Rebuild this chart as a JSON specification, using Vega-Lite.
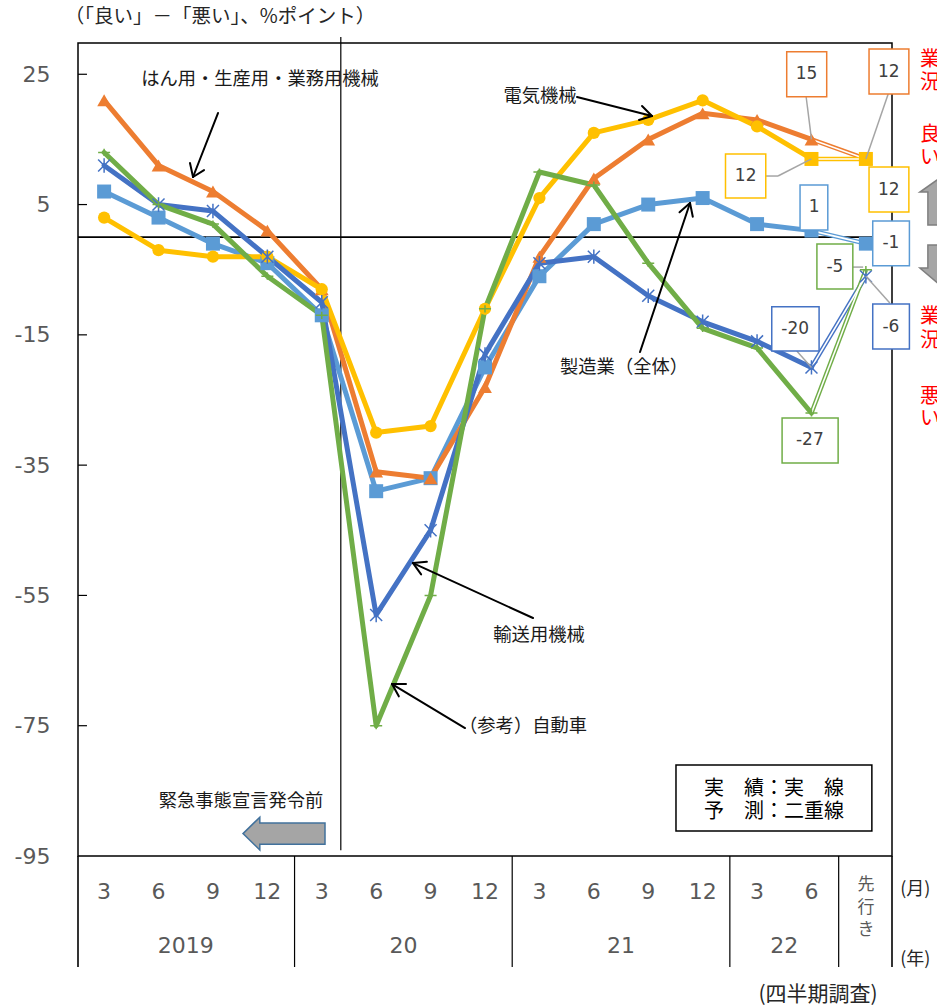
{
  "$schema": "https://vega.github.io/schema/vega-lite/v6.json",
  "width": 814,
  "height": 813,
  "autosize": {"type": "none"},
  "padding": {"left": 78, "top": 43, "right": 45, "bottom": 150},
  "background": "white",
  "config": {"view": {"stroke": "black", "strokeWidth": 1.5}, "font": "Noto Sans CJK JP"},
  "datasets": {
    "series": [
      {"s":"1lb","x":0,"y":7},{"s":"1lb","x":1,"y":3},{"s":"1lb","x":2,"y":-1},{"s":"1lb","x":3,"y":-4},{"s":"1lb","x":4,"y":-12},{"s":"1lb","x":5,"y":-39},{"s":"1lb","x":6,"y":-37},{"s":"1lb","x":7,"y":-20},{"s":"1lb","x":8,"y":-6},{"s":"1lb","x":9,"y":2},{"s":"1lb","x":10,"y":5},{"s":"1lb","x":11,"y":6},{"s":"1lb","x":12,"y":2},{"s":"1lb","x":13,"y":1},{"s":"1lb","x":14,"y":-1},
      {"s":"2or","x":0,"y":21},{"s":"2or","x":1,"y":11},{"s":"2or","x":2,"y":7},{"s":"2or","x":3,"y":1},{"s":"2or","x":4,"y":-8},{"s":"2or","x":5,"y":-36},{"s":"2or","x":6,"y":-37},{"s":"2or","x":7,"y":-23},{"s":"2or","x":8,"y":-3},{"s":"2or","x":9,"y":9},{"s":"2or","x":10,"y":15},{"s":"2or","x":11,"y":19},{"s":"2or","x":12,"y":18},{"s":"2or","x":13,"y":15},{"s":"2or","x":14,"y":12},
      {"s":"3ye","x":0,"y":3},{"s":"3ye","x":1,"y":-2},{"s":"3ye","x":2,"y":-3},{"s":"3ye","x":3,"y":-3},{"s":"3ye","x":4,"y":-8},{"s":"3ye","x":5,"y":-30},{"s":"3ye","x":6,"y":-29},{"s":"3ye","x":7,"y":-11},{"s":"3ye","x":8,"y":6},{"s":"3ye","x":9,"y":16},{"s":"3ye","x":10,"y":18},{"s":"3ye","x":11,"y":21},{"s":"3ye","x":12,"y":17},{"s":"3ye","x":13,"y":12},{"s":"3ye","x":14,"y":12},
      {"s":"4db","x":0,"y":11},{"s":"4db","x":1,"y":5},{"s":"4db","x":2,"y":4},{"s":"4db","x":3,"y":-3},{"s":"4db","x":4,"y":-10},{"s":"4db","x":5,"y":-58},{"s":"4db","x":6,"y":-45},{"s":"4db","x":7,"y":-18},{"s":"4db","x":8,"y":-4},{"s":"4db","x":9,"y":-3},{"s":"4db","x":10,"y":-9},{"s":"4db","x":11,"y":-13},{"s":"4db","x":12,"y":-16},{"s":"4db","x":13,"y":-20},{"s":"4db","x":14,"y":-6},
      {"s":"5gr","x":0,"y":13},{"s":"5gr","x":1,"y":5},{"s":"5gr","x":2,"y":2},{"s":"5gr","x":3,"y":-6},{"s":"5gr","x":4,"y":-12},{"s":"5gr","x":5,"y":-75},{"s":"5gr","x":6,"y":-55},{"s":"5gr","x":7,"y":-11},{"s":"5gr","x":8,"y":10},{"s":"5gr","x":9,"y":8},{"s":"5gr","x":10,"y":-4},{"s":"5gr","x":11,"y":-14},{"s":"5gr","x":12,"y":-17},{"s":"5gr","x":13,"y":-27},{"s":"5gr","x":14,"y":-5}
    ],
    "frameRules": [
      {"x":-0.48,"x2":14.48,"y":0,"y2":0},
      {"x":-0.48,"x2":-0.48,"y":-95,"y2":-112.04},
      {"x":14.48,"x2":14.48,"y":-95,"y2":-112.04}
    ],
    "thinRules": [
      {"x":4.35,"x2":4.35,"y":30.72,"y2":-94.1},
      {"x":3.5,"x2":3.5,"y":-95,"y2":-112.04},
      {"x":7.5,"x2":7.5,"y":-95,"y2":-112.04},
      {"x":11.5,"x2":11.5,"y":-95,"y2":-112.04},
      {"x":13.5,"x2":13.5,"y":-95,"y2":-112.04},
      {"x":-0.48,"x2":-0.315,"y":25,"y2":25},
      {"x":-0.48,"x2":-0.315,"y":5,"y2":5},
      {"x":-0.48,"x2":-0.315,"y":-15,"y2":-15},
      {"x":-0.48,"x2":-0.315,"y":-35,"y2":-35},
      {"x":-0.48,"x2":-0.315,"y":-55,"y2":-55},
      {"x":-0.48,"x2":-0.315,"y":-75,"y2":-75}
    ],
    "arrows": [
      {"x":2.093,"y":19.05,"x2":1.634,"y2":9.23},
      {"x":1.578,"y":11.38,"x2":1.634,"y2":9.23},
      {"x":1.836,"y":10.3,"x2":1.634,"y2":9.23},
      {"x":8.691,"y":21.51,"x2":10.069,"y2":18.59},
      {"x":9.886,"y":20.13,"x2":10.069,"y2":18.59},
      {"x":9.83,"y":17.98,"x2":10.069,"y2":18.59},
      {"x":9.849,"y":-17.64,"x2":10.768,"y2":5.24},
      {"x":10.575,"y":3.81,"x2":10.768,"y2":5.24},
      {"x":10.819,"y":3.13,"x2":10.768,"y2":5.24},
      {"x":7.882,"y":-58.47,"x2":5.677,"y2":-50.03},
      {"x":5.826,"y":-51.78,"x2":5.677,"y2":-50.03},
      {"x":5.932,"y":-49.83,"x2":5.677,"y2":-50.03},
      {"x":6.633,"y":-75.36,"x2":5.291,"y2":-68.6},
      {"x":5.416,"y":-70.49,"x2":5.291,"y2":-68.6},
      {"x":5.548,"y":-68.6,"x2":5.291,"y2":-68.6}
    ],
    "leaders": [
      {"x":12.9,"y":21.66,"x2":13.0,"y2":15},
      {"x":14.41,"y":21.97,"x2":14.0,"y2":12},
      {"x":12.16,"y":9.38,"x2":12.385,"y2":9.38},
      {"x":12.385,"y":9.38,"x2":13.0,"y2":12},
      {"x":13.76,"y":-4.6,"x2":13.95,"y2":-4.6},
      {"x":14.44,"y":-10.1,"x2":14.0,"y2":-6},
      {"x":12.73,"y":-17.48,"x2":13.0,"y2":-20}
    ],
    "boxes": [
      {"t":"15","s":"2or","x":12.545,"x2":13.28,"y":28.46,"y2":21.56,"cx":12.91,"cy":25.0},
      {"t":"12","s":"2or","x":14.058,"x2":14.79,"y":28.88,"y2":21.97,"cx":14.42,"cy":25.4},
      {"t":"12","s":"3ye","x":11.42,"x2":12.16,"y":12.76,"y2":6.0,"cx":11.79,"cy":9.38},
      {"t":"12","s":"3ye","x":14.058,"x2":14.79,"y":10.76,"y2":3.86,"cx":14.42,"cy":7.31},
      {"t":"1","s":"1lb","x":12.79,"x2":13.3,"y":8.0,"y2":1.09,"cx":13.05,"cy":4.55},
      {"t":"-1","s":"1lb","x":14.126,"x2":14.8,"y":2.47,"y2":-4.39,"cx":14.46,"cy":-0.96},
      {"t":"-5","s":"5gr","x":13.1,"x2":13.76,"y":-1.06,"y2":-7.96,"cx":13.43,"cy":-4.51},
      {"t":"-6","s":"4db","x":14.126,"x2":14.8,"y":-10.27,"y2":-17.18,"cx":14.46,"cy":-13.72},
      {"t":"-20","s":"4db","x":12.27,"x2":13.14,"y":-10.68,"y2":-17.48,"cx":12.7,"cy":-14.08},
      {"t":"-27","s":"5gr","x":12.46,"x2":13.49,"y":-27.77,"y2":-34.68,"cx":12.97,"cy":-31.2}
    ],
    "labels": [
      {"t":"はん用・生産用・業務用機械","x":2.865,"y":24.12},
      {"t":"電気機械","x":8.011,"y":21.51},
      {"t":"製造業（全体）","x":9.555,"y":-20.09},
      {"t":"輸送用機械","x":7.993,"y":-61.23},
      {"t":"（参考）自動車","x":7.699,"y":-75.2},
      {"t":"緊急事態宣言発令前","x":2.516,"y":-86.72}
    ],
    "legendBox": [{"x":10.51,"x2":14.11,"y":-81.04,"y2":-91.17}],
    "legendText": [
      {"t":"実　績：実　線","x":12.31,"y":-84.72},
      {"t":"予　測：二重線","x":12.31,"y":-88.2}
    ],
    "months": [
      {"t":"3","x":0,"y":-100.53},{"t":"6","x":1,"y":-100.53},{"t":"9","x":2,"y":-100.53},{"t":"12","x":3,"y":-100.53},
      {"t":"3","x":4,"y":-100.53},{"t":"6","x":5,"y":-100.53},{"t":"9","x":6,"y":-100.53},{"t":"12","x":7,"y":-100.53},
      {"t":"3","x":8,"y":-100.53},{"t":"6","x":9,"y":-100.53},{"t":"9","x":10,"y":-100.53},{"t":"12","x":11,"y":-100.53},
      {"t":"3","x":12,"y":-100.53},{"t":"6","x":13,"y":-100.53},
      {"t":"2019","x":1.5,"y":-108.82},{"t":"20","x":5.5,"y":-108.82},{"t":"21","x":9.5,"y":-108.82},{"t":"22","x":12.5,"y":-108.82}
    ],
    "sakiyuki": [
      {"t":"先","x":14,"y":-99.45},{"t":"行","x":14,"y":-102.98},{"t":"き","x":14,"y":-106.36}
    ],
    "unitText": [
      {"t":"(月)","x":14.63,"y":-100.2},
      {"t":"(年)","x":14.63,"y":-110.97}
    ],
    "footText": [
      {"t":"(四半期調査)","x":13.12,"y":-116.34}
    ],
    "titleText": [
      {"t":"（「良い」－「悪い」、%ポイント）","x":2.13,"y":33.79}
    ],
    "redText": [
      {"t":"業","x":14.995,"y":27.19},{"t":"況","x":14.995,"y":23.66},
      {"t":"良","x":14.995,"y":15.68},{"t":"い","x":14.995,"y":12.15},
      {"t":"業","x":14.995,"y":-12.26},{"t":"況","x":14.995,"y":-15.95},
      {"t":"悪","x":14.995,"y":-24.54},{"t":"い","x":14.995,"y":-27.92}
    ],
    "leftArrow": [{"x":3.306,"y":-91.56}],
    "upArrow": [{"x":15.36,"y":5.47}],
    "downArrow": [{"x":15.36,"y":-4.28}]
  },
  "encoding": {
    "x": {"field": "x", "type": "quantitative", "scale": {"domain": [-0.48, 14.48], "nice": false, "zero": false}, "axis": null},
    "y": {"field": "y", "type": "quantitative", "scale": {"domain": [-95, 29.8], "nice": false, "zero": false},
      "axis": {"values": [-95, -75, -55, -35, -15, 5, 25], "labelExpr": "'' + datum.value", "title": null, "ticks": false, "domain": false, "grid": false, "labelPadding": 28, "labelFontSize": 22, "labelColor": "#595959", "labelFont": "DejaVu Sans"}}
  },
  "layer": [
    {"data": {"name": "thinRules"}, "mark": {"type": "rule", "color": "black", "strokeWidth": 1.2},
      "encoding": {"x2": {"field": "x2"}, "y2": {"field": "y2"}}},
    {"data": {"name": "frameRules"}, "mark": {"type": "rule", "color": "black", "strokeWidth": 1.6},
      "encoding": {"x2": {"field": "x2"}, "y2": {"field": "y2"}}},
    {"data": {"name": "series"}, "transform": [{"filter": "datum.x <= 13"}],
      "mark": {"type": "line", "strokeWidth": 5, "strokeJoin": "round", "strokeCap": "round"},
      "encoding": {"color": {"field": "s", "type": "nominal", "legend": null,
        "scale": {"domain": ["1lb","2or","3ye","4db","5gr"], "range": ["#5B9BD5","#ED7D31","#FFC000","#4472C4","#70AD47"]}}}},
    {"data": {"name": "series"}, "transform": [{"filter": "datum.x >= 13"}],
      "mark": {"type": "line", "strokeWidth": 4.5},
      "encoding": {"color": {"field": "s", "type": "nominal", "legend": null,
        "scale": {"domain": ["1lb","2or","3ye","4db","5gr"], "range": ["#5B9BD5","#ED7D31","#FFC000","#4472C4","#70AD47"]}}}},
    {"data": {"name": "series"}, "transform": [{"filter": "datum.x >= 13"}],
      "mark": {"type": "line", "strokeWidth": 1.6, "color": "white"},
      "encoding": {"detail": {"field": "s", "type": "nominal"}}},
    {"data": {"name": "series"}, "transform": [{"filter": "datum.s == '1lb'"}],
      "mark": {"type": "point", "shape": "square", "filled": true, "size": 196, "color": "#5B9BD5", "opacity": 1}},
    {"data": {"name": "series"}, "transform": [{"filter": "datum.s == '2or'"}],
      "mark": {"type": "point", "shape": "triangle-up", "filled": true, "size": 190, "color": "#ED7D31", "opacity": 1}},
    {"data": {"name": "series"}, "transform": [{"filter": "datum.s == '3ye' && datum.x <= 12"}],
      "mark": {"type": "point", "shape": "circle", "filled": true, "size": 150, "color": "#FFC000", "opacity": 1}},
    {"data": {"name": "series"}, "transform": [{"filter": "datum.s == '3ye' && datum.x >= 13"}],
      "mark": {"type": "point", "shape": "square", "filled": true, "size": 196, "color": "#FFC000", "opacity": 1}},
    {"data": {"name": "series"}, "transform": [{"filter": "datum.s == '4db'"}],
      "mark": {"type": "point", "shape": "M-1,-1L1,1M-1,1L1,-1M0,-1.2L0,1.2", "filled": false, "size": 144, "strokeWidth": 1.5, "color": "#4472C4", "opacity": 1}},
    {"data": {"name": "series"}, "transform": [{"filter": "datum.s == '5gr'"}],
      "mark": {"type": "point", "shape": "M-1,0L1,0M0,-0.6L0,0.6", "filled": false, "size": 144, "strokeWidth": 1.5, "color": "#70AD47", "opacity": 1}},
    {"data": {"name": "arrows"}, "mark": {"type": "rule", "color": "black", "strokeWidth": 2, "strokeCap": "round"},
      "encoding": {"x2": {"field": "x2"}, "y2": {"field": "y2"}}},
    {"data": {"name": "leaders"}, "mark": {"type": "rule", "color": "#A5A5A5", "strokeWidth": 1.5},
      "encoding": {"x2": {"field": "x2"}, "y2": {"field": "y2"}}},
    {"data": {"name": "boxes"}, "mark": {"type": "rect", "fill": "white", "strokeWidth": 1.5},
      "encoding": {"x2": {"field": "x2"}, "y2": {"field": "y2"},
        "stroke": {"field": "s", "type": "nominal", "legend": null,
          "scale": {"domain": ["1lb","2or","3ye","4db","5gr"], "range": ["#5B9BD5","#ED7D31","#FFC000","#4472C4","#70AD47"]}}}},
    {"data": {"name": "boxes"}, "mark": {"type": "text", "font": "DejaVu Sans", "fontSize": 17, "color": "#404040", "align": "center", "baseline": "middle"},
      "encoding": {"x": {"field": "cx", "type": "quantitative"}, "y": {"field": "cy", "type": "quantitative"}, "text": {"field": "t"}}},
    {"data": {"name": "labels"}, "mark": {"type": "text", "font": "Noto Sans CJK JP", "fontSize": 18.3, "color": "#1a1a1a", "align": "center", "baseline": "middle"},
      "encoding": {"text": {"field": "t"}}},
    {"data": {"name": "legendBox"}, "mark": {"type": "rect", "fill": "white", "stroke": "black", "strokeWidth": 1.5},
      "encoding": {"x2": {"field": "x2"}, "y2": {"field": "y2"}}},
    {"data": {"name": "legendText"}, "mark": {"type": "text", "font": "Noto Sans CJK JP", "fontSize": 20, "color": "#000000", "align": "center", "baseline": "middle"},
      "encoding": {"text": {"field": "t"}}},
    {"data": {"name": "months"}, "mark": {"type": "text", "font": "DejaVu Sans", "fontSize": 22, "color": "#595959", "align": "center", "baseline": "middle"},
      "encoding": {"text": {"field": "t"}}},
    {"data": {"name": "sakiyuki"}, "mark": {"type": "text", "font": "Noto Sans CJK JP", "fontSize": 17, "color": "#595959", "align": "center", "baseline": "middle"},
      "encoding": {"text": {"field": "t"}}},
    {"data": {"name": "unitText"}, "mark": {"type": "text", "font": "Noto Sans CJK JP", "fontSize": 18, "color": "#262626", "align": "left", "baseline": "middle"},
      "encoding": {"text": {"field": "t"}}},
    {"data": {"name": "footText"}, "mark": {"type": "text", "font": "Noto Sans CJK JP", "fontSize": 21, "color": "#262626", "align": "center", "baseline": "middle"},
      "encoding": {"text": {"field": "t"}}},
    {"data": {"name": "titleText"}, "mark": {"type": "text", "font": "Noto Sans CJK JP", "fontSize": 19.5, "color": "#262626", "align": "center", "baseline": "middle"},
      "encoding": {"text": {"field": "t"}}},
    {"data": {"name": "redText"}, "mark": {"type": "text", "font": "Noto Sans CJK JP", "fontSize": 20, "color": "#FF0000", "align": "left", "baseline": "middle"},
      "encoding": {"text": {"field": "t"}}},
    {"data": {"name": "leftArrow"}, "mark": {"type": "point", "shape": "M-1,0L-0.59,-0.4L-0.59,-0.26L1,-0.26L1,0.26L-0.59,0.26L-0.59,0.4Z", "size": 6724, "filled": true, "fill": "#A5A5A5", "stroke": "#41719C", "strokeWidth": 1.5, "opacity": 1}},
    {"data": {"name": "upArrow"}, "mark": {"type": "point", "shape": "M0,-1L0.85,-0.4L0.51,-0.4L0.51,1L-0.51,1L-0.51,-0.4L-0.85,-0.4Z", "size": 2209, "filled": true, "fill": "#A6A6A6", "stroke": "#7F7F7F", "strokeWidth": 1.5, "opacity": 1}},
    {"data": {"name": "downArrow"}, "mark": {"type": "point", "shape": "M-0.6,-1L0.6,-1L0.6,0.15L1,0.15L0,1L-1,0.15L-0.6,0.15Z", "size": 1600, "filled": true, "fill": "#A6A6A6", "stroke": "#7F7F7F", "strokeWidth": 1.5, "opacity": 1}}
  ]
}
